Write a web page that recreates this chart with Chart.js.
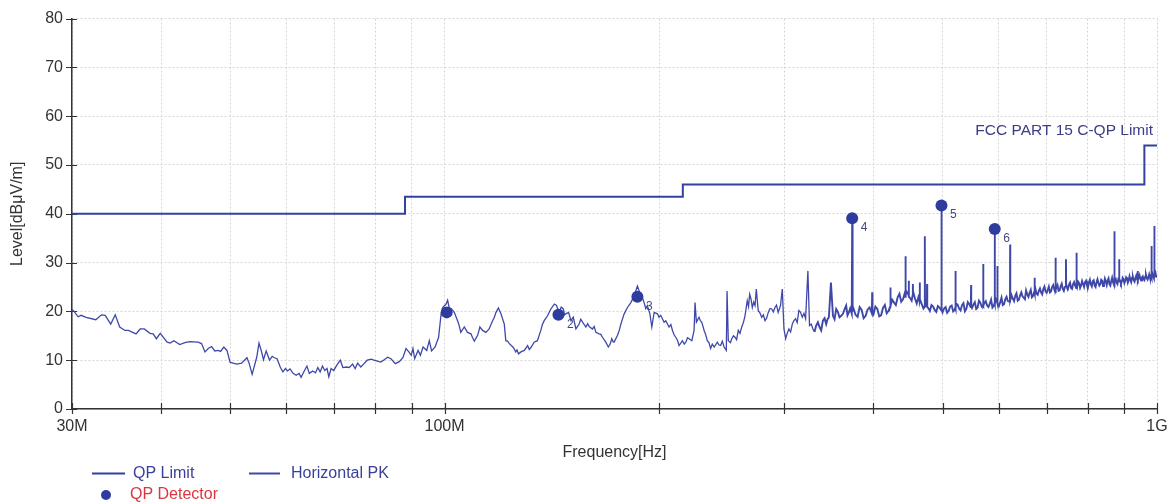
<!DOCTYPE html>
<html>
<head>
<meta charset="utf-8">
<script src="https://cdn.jsdelivr.net/npm/chart.js@4.4.1/dist/chart.umd.min.js"></script>
<style>
  html, body { margin: 0; padding: 0; background: #ffffff; }
  #wrap { width: 1176px; height: 504px; position: relative; }
</style>
</head>
<body>
<div id="wrap"><canvas id="emi" width="1176" height="504"></canvas></div>
<script>
// Axis ticks (frequency in MHz, level in dBuV/m)
const xTickMHz = [30, 40, 50, 60, 70, 80, 90, 100, 200, 300, 400, 500, 600, 700, 800, 900, 1000];
const xTickText = { 30: '30M', 100: '100M', 1000: '1G' };
const yTicks = [0, 10, 20, 30, 40, 50, 60, 70, 80];

// FCC Part 15 C quasi-peak limit (stepped)
const limitFreqMHz = [30, 88, 88, 216, 216, 960, 960, 1000];
const limitLevel = [40, 40, 43.5, 43.5, 46, 46, 54, 54];

// Quasi-peak detector results
const qpFreqMHz = [100.7, 144.5, 186.5, 373.4, 498.3, 591.9];
const qpLevel = [19.8, 19.3, 23.0, 39.1, 41.7, 36.9];
const qpTag = ['', '2', '3', '4', '5', '6'];

// Horizontal peak scan: [MHz, dBuV/m]
const pkTrace = [
  [30.0,20.4],[30.2,20.0],[30.6,18.9],[30.9,19.2],[31.4,18.8],[32.4,18.3],[33.0,19.3],[33.4,19.2],[34.0,17.4],[34.5,19.3],
  [35.0,16.8],[35.6,16.1],[36.0,16.1],[36.9,15.4],[37.4,16.4],[37.9,16.4],[38.6,15.5],[39.0,15.4],[39.4,14.4],[39.9,15.5],
  [40.8,13.7],[41.2,13.5],[41.7,14.0],[42.5,13.2],[43.2,13.6],[43.9,13.8],[45.1,13.7],[45.6,13.4],[46.1,11.7],[46.6,12.4],
  [47.1,12.8],[47.6,11.9],[48.1,12.0],[48.5,11.8],[49.0,12.7],[49.5,12.0],[50.0,9.6],[50.5,9.4],[51.1,9.2],[51.9,9.4],
  [52.8,10.5],[53.2,9.3],[53.7,7.1],[54.5,10.6],[54.9,13.5],[55.3,12.0],[55.7,10.1],[56.2,11.9],[56.8,10.0],[57.3,10.8],
  [57.7,10.5],[58.2,10.3],[58.8,8.6],[59.3,7.6],[59.8,8.3],[60.2,7.8],[60.7,8.2],[61.3,7.3],[61.9,6.9],[62.5,7.3],
  [62.9,6.5],[63.6,7.9],[64.1,8.8],[64.6,7.3],[65.3,7.8],[65.9,7.4],[66.4,8.5],[66.9,7.6],[67.4,8.8],[67.9,7.9],
  [68.4,8.3],[68.8,6.6],[69.3,8.3],[69.9,7.9],[70.6,9.0],[71.4,10.0],[72.0,8.5],[72.9,8.6],[73.5,8.5],[74.3,9.2],
  [74.9,8.3],[75.5,9.4],[76.3,8.6],[77.1,9.3],[77.9,10.0],[78.9,10.2],[79.6,10.0],[80.5,9.8],[81.4,9.6],[82.3,10.1],
  [83.2,10.6],[84.1,10.3],[85.3,9.3],[86.4,9.7],[87.4,10.5],[88.3,12.4],[89.1,11.7],[89.8,11.0],[90.3,12.4],[90.8,10.3],
  [91.8,12.0],[92.5,11.0],[93.3,12.7],[94.4,12.0],[95.2,14.0],[95.9,11.9],[97.0,12.7],[98.1,14.7],[98.9,19.5],[99.4,20.8],
  [100.5,21.5],[101.0,22.3],[101.5,20.8],[103.2,19.8],[104.3,18.1],[105.4,15.7],[106.6,16.8],[107.7,15.7],[108.9,15.4],[110.1,13.9],
  [111.3,15.1],[112.1,16.8],[113.1,16.1],[114.3,15.7],[115.5,16.4],[116.8,18.1],[118.1,19.8],[119.0,20.7],[120.0,19.5],[121.3,17.4],
  [121.9,14.0],[123.3,13.4],[124.9,12.6],[125.9,11.7],[127.0,11.3],[128.0,11.7],[129.4,12.0],[130.8,13.0],[132.2,12.6],[133.6,13.7],
  [135.0,14.0],[136.5,16.1],[138.0,18.1],[139.5,19.1],[141.0,20.5],[142.6,21.5],[143.6,21.2],[144.8,19.8],[146.8,20.5],[148.0,19.5],
  [149.3,19.8],[150.5,18.1],[151.6,18.8],[152.9,16.4],[154.5,17.4],[156.2,17.8],[157.9,16.8],[159.6,16.9],[161.3,16.4],[163.1,15.7],
  [164.8,15.4],[166.6,14.7],[168.4,13.7],[169.8,12.7],[171.7,14.4],[173.0,13.7],[174.9,15.1],[176.8,17.4],[178.7,19.5],[180.6,20.8],
  [182.6,21.8],[184.6,23.2],[186.5,25.2],[188.6,23.2],[190.6,21.8],[192.6,21.2],[194.2,19.5],[195.4,16.8],[196.9,19.8],[199.0,19.5],
  [200.0,18.8],[202.2,18.5],[204.4,18.1],[206.6,16.8],[208.9,16.1],[211.1,14.7],[213.4,13.0],[215.7,14.0],[218.1,13.7],[220.4,14.4],
  [222.4,14.0],[224.0,16.1],[224.7,21.8],[225.7,17.8],[227.6,18.8],[229.6,17.8],[231.4,16.1],[233.8,14.0],[236.3,12.4],[239.0,12.7],
  [241.5,13.7],[244.1,13.0],[246.8,12.7],[248.6,12.0],[249.2,24.2],[250.2,14.0],[253.0,14.4],[255.7,14.7],[258.4,16.1],[261.3,16.8],
  [264.1,19.1],[266.0,22.2],[268.1,23.5],[270.4,20.8],[272.8,21.2],[273.9,24.6],[275.6,20.2],[278.7,18.8],[281.7,18.1],[284.7,19.8],
  [287.9,20.5],[290.9,20.8],[294.0,19.8],[296.2,21.2],[297.9,24.6],[299.5,16.4],[301.2,14.4],[304.3,16.4],[307.7,17.4],[311.0,18.5],
  [314.3,20.2],[317.8,18.8],[321.2,18.5],[323.6,28.3],[325.3,17.1],[328.9,16.4],[332.4,17.1],[336.0,16.8],[339.7,18.1],[343.3,17.4],
  [346.3,18.8],[348.6,25.9],[350.9,19.1],[354.6,20.5],[358.4,18.8],[362.4,19.5],[366.2,21.2],[369.4,19.8],[372.9,19.5],[373.4,39.1],
  [373.9,20.2],[375,20.6],[380,18.9],[385,20.3],[390,19.1],[395,20.8],[397.9,19.6],[398.3,23.9],[398.7,19.8],[400,19.4],
  [405,20.5],[410,19.2],[415,21.3],[420,20.1],[422.2,21.0],[422.5,24.9],[422.8,21.2],[425,22.4],[430,21.3],[435,23.6],
  [440,22.5],[443.3,23.0],[443.6,31.3],[443.9,23.2],[445,24.1],[448.0,23.4],[448.3,26.3],[448.6,23.0],[450,22.8],[454.0,23.3],
  [454.3,25.6],[454.6,23.5],[455,23.9],[460,21.6],[464.2,22.0],[464.5,25.9],[464.8,22.2],[465,22.4],[470,20.6],[471.9,21.1],
  [472.2,35.4],[472.5,21.0],[475,21.4],[475.3,21.2],[475.6,25.6],[475.9,20.9],[480,20.1],[485,21.0],[490,19.9],[495,20.8],
  [498.0,20.2],[498.3,41.7],[498.6,20.4],[500,19.8],[505,20.9],[510,20.1],[515,21.2],[520,20.3],[521.1,20.8],[521.4,28.3],
  [521.7,20.6],[525,21.4],[530,20.2],[535,21.7],[540,20.5],[545,21.5],[548.0,21.0],[548.3,25.4],[548.6,21.1],[550,20.7],
  [555,21.9],[560,20.8],[565,21.8],[570.0,21.3],[570.3,29.7],[570.6,21.2],[575,22.1],[580,20.9],[585,22.4],[590,21.2],
  [591.6,21.7],[591.9,36.9],[592.2,21.5],[595,22.2],[596.7,21.8],[597.0,29.3],[597.3,21.6],[600,21.1],[605,22.8],[610,21.5],
  [615,23.0],[620,22.0],[621.8,22.4],[622.1,33.7],[622.4,22.3],[625,23.3],[630,22.1],[635,23.7],[640,22.4],[645,23.9],
  [650,22.8],[655,24.3],[660,23.0],[665,24.4],[670,23.2],[673.2,23.8],[673.5,26.9],[673.8,23.6],[675,24.7],[680,23.4],
  [685,24.7],[690,23.5],[695,25.1],[700,23.8],[705,25.1],[710,24.1],[715,25.4],[720,23.9],[720.4,24.5],[720.7,31.0],
  [721.0,24.4],[725,25.4],[730,24.3],[735,25.7],[740,24.2],[744.6,25.1],[745.1,30.7],[745.6,25.3],[750,24.6],[755,25.9],
  [760,24.6],[765,26.0],[770,24.8],[770.9,25.6],[771.2,32.0],[771.5,25.4],[775,26.1],[780,24.8],[785,26.2],[790,25.0],
  [795,26.3],[800,24.9],[805,26.5],[810,25.1],[815,26.4],[820,25.0],[825,26.6],[830,25.3],[835,26.5],[840,25.2],
  [845,26.7],[850,25.4],[855,26.8],[860,25.3],[865,26.9],[870,25.5],[870.8,26.2],[871.1,36.4],[871.4,26.0],[875,26.7],
  [880,25.6],[884.7,26.4],[885.0,30.7],[885.3,26.2],[890,25.7],[895,26.9],[900,25.8],[905,27.0],[910,25.9],[915,27.2],
  [920,26.0],[925,27.1],[930,26.1],[935,27.3],[939.6,26.5],[939.9,28.3],[940.2,26.3],[945,27.4],[950,26.3],[955,27.2],
  [960,26.4],[965,27.5],[970,26.5],[975,27.6],[980,26.6],[982.3,27.1],[982.6,33.4],[982.9,27.0],[985,27.8],[990,26.8],
  [990.9,27.2],[991.2,37.5],[991.5,27.3],[995,27.9],[1000,27.0]
];

// Intermediate sweep samples between the points above: [MHz, dBuV/m]
const pkFine = [
  [102.3,20.5],[104.8,17.2],[109.5,14.6],[117.4,18.7],[122.6,13.9],[126.4,12.1],[131.5,12.2],[137.2,17.3],[145.8,20.9],[147.4,19.3],
  [155.3,18.4],[158.8,17.5],[162.2,16.9],[165.7,15.3],[170.8,13.3],[172.4,13.8],[175.8,16.0],[179.6,20.1],[189.6,22.8],[191.6,20.6],
  [201.1,19.2],[203.3,17.8],[207.8,17.3],[210.0,15.2],[212.3,14.1],[217.0,13.3],[219.3,14.6],[228.6,18.1],[232.6,15.2],[235.0,13.6],
  [237.6,13.3],[242.8,13.1],[245.4,13.9],[252.0,13.6],[254.4,15.0],[257.0,14.2],[259.8,15.5],[262.7,17.7],[267.1,21.0],[269.2,22.6],
  [271.6,21.9],[277.1,19.7],[280.2,19.3],[283.2,18.6],[286.3,20.6],[289.4,19.9],[292.4,21.3],[302.7,15.5],[306.0,15.8],[309.3,18.1],
  [312.6,17.7],[316.0,19.8],[319.5,19.6],[327.1,17.4],[330.6,15.8],[334.2,17.8],[337.8,16.1],[341.5,18.6],[344.8,18.4],[352.7,18.4],
  [356.5,19.9],[360.4,19.1],[364.3,20.4],[367.8,19.2],[371.0,20.6],
  [377.5,19.3],[382.5,20.9],[387.5,18.6],[392.5,20.4],[402.5,21.0],[407.5,19.0],[412.5,20.7],[417.5,19.6],[427.5,21.8],[432.5,22.9],
  [437.5,22.0],[442.5,23.7],[452.5,22.2],[457.5,22.6],[462.5,22.9],[467.5,21.5],[477.5,20.7],[482.5,21.3],[487.5,20.3],[492.5,21.1],
  [502.5,20.6],[507.5,19.7],[512.5,21.0],[517.5,20.0],[522.5,21.6],[527.5,20.6],[532.5,21.3],[537.5,20.0],[542.5,21.9],[547.5,20.9],
  [552.5,21.4],[557.5,20.5],[562.5,22.2],[567.5,21.0],[572.5,21.7],[577.5,21.2],[582.5,21.6],[587.5,20.8],[593.5,22.6],[602.5,21.9],
  [607.5,21.3],[612.5,22.5],[617.5,22.1],[627.5,22.6],[632.5,23.2],[637.5,22.2],[642.5,23.3],[647.5,23.1],[652.5,22.5],[657.5,23.5],
  [662.5,23.8],[667.5,22.9],[672.5,24.0],[677.5,23.6],[682.5,24.2],[687.5,23.9],[692.5,24.6],[697.5,24.1],[702.5,24.4],[707.5,23.9],
  [712.5,25.0],[717.5,24.5],[722.5,24.9],[727.5,24.2],[732.5,25.2],[737.5,24.6],[742.5,25.0],[747.5,24.9],[752.5,25.5],[757.5,24.8],
  [762.5,25.6],[767.5,25.3],[772.5,25.0],[777.5,25.8],[782.5,25.3],[787.5,25.6],[792.5,26.0],[797.5,25.4],[802.5,25.9],[807.5,25.5],
  [812.5,26.2],[817.5,25.3],[822.5,26.0],[827.5,25.8],[832.5,25.6],[837.5,26.3],[842.5,25.7],[847.5,26.1],[852.5,26.4],[857.5,25.6],
  [862.5,26.2],[867.5,26.0],[872.5,26.5],[877.5,25.9],[882.5,26.6],[887.5,26.3],[892.5,26.1],[897.5,26.6],[902.5,26.3],[907.5,26.8],
  [912.5,26.4],[917.5,26.5],[922.5,26.9],[927.5,26.4],[932.5,26.8],[937.5,26.6],[942.5,26.9],[947.5,26.7],[952.5,27.0],[957.5,26.6],
  [962.5,27.1],[967.5,26.8],[972.5,27.0],[977.5,26.9],[987.5,27.2],[992.5,27.4],[997.5,27.1]
];

const FONT = '"Liberation Sans", Arial, Helvetica, sans-serif';
const AXIS_COLOR = '#333333';
const LIMIT_COLOR = '#3341a0';
const TRACE_COLOR = '#3f48a8';
const MARKER_COLOR = '#2e3d9d';

Chart.defaults.font.family = FONT;
Chart.defaults.color = AXIS_COLOR;

// Full sweep in frequency order
const pkSweep = pkTrace.concat(pkFine).sort((a, b) => a[0] - b[0]);

// Crossing tick marks on both axes
const axisMarks = {
  id: 'axisMarks',
  beforeDatasetsDraw(chart) {
    const { ctx, chartArea: a, scales: { x, y } } = chart;
    ctx.save();
    ctx.strokeStyle = AXIS_COLOR;
    ctx.lineWidth = 1.2;
    ctx.beginPath();
    xTickMHz.forEach(v => {
      const px = Math.round(x.getPixelForValue(v)) + 0.5;
      ctx.moveTo(px, a.bottom - 6);
      ctx.lineTo(px, a.bottom + 5);
    });
    yTicks.forEach(v => {
      const py = Math.round(y.getPixelForValue(v)) + 0.5;
      ctx.moveTo(a.left - 6, py);
      ctx.lineTo(a.left + 5, py);
    });
    ctx.stroke();
    ctx.restore();
  }
};

// Marker numbers, limit name and the legend block
const annotations = {
  id: 'annotations',
  afterDraw(chart) {
    const { ctx, chartArea: a, scales: { x, y } } = chart;
    ctx.save();

    ctx.font = '12px ' + FONT;
    ctx.fillStyle = '#45487e';
    ctx.textAlign = 'left';
    ctx.textBaseline = 'middle';
    qpFreqMHz.forEach((f, i) => {
      if (!qpTag[i]) return;
      ctx.fillText(qpTag[i], x.getPixelForValue(f) + 8.5, y.getPixelForValue(qpLevel[i]) + 9.5);
    });

    ctx.font = '15.5px ' + FONT;
    ctx.fillStyle = '#3b3d87';
    ctx.textAlign = 'right';
    ctx.fillText('FCC PART 15 C-QP Limit', a.right - 4, y.getPixelForValue(limitLevel[limitLevel.length - 1]) - 15);

    // legend
    ctx.font = '16px ' + FONT;
    ctx.textAlign = 'left';
    ctx.lineWidth = 2;
    ctx.strokeStyle = LIMIT_COLOR;
    ctx.beginPath(); ctx.moveTo(92, 473.5); ctx.lineTo(125, 473.5); ctx.stroke();
    ctx.fillStyle = '#3a3f9a';
    ctx.fillText('QP Limit', 133, 474);
    ctx.strokeStyle = TRACE_COLOR;
    ctx.beginPath(); ctx.moveTo(249, 473.5); ctx.lineTo(280, 473.5); ctx.stroke();
    ctx.fillText('Horizontal PK', 291, 474);
    ctx.fillStyle = MARKER_COLOR;
    ctx.beginPath(); ctx.arc(106, 495, 5, 0, Math.PI * 2); ctx.fill();
    ctx.fillStyle = '#d9363e';
    ctx.fillText('QP Detector', 130, 495);

    ctx.restore();
  }
};

new Chart(document.getElementById('emi'), {
  type: 'line',
  data: {
    datasets: [
      {
        label: 'QP Detector',
        data: qpFreqMHz.map((f, i) => ({ x: f, y: qpLevel[i] })),
        showLine: false,
        pointRadius: 6,
        pointBackgroundColor: MARKER_COLOR,
        pointBorderWidth: 0,
        order: 0
      },
      {
        label: 'QP Limit',
        data: limitFreqMHz.map((f, i) => ({ x: f, y: limitLevel[i] })),
        borderColor: LIMIT_COLOR,
        borderWidth: 2,
        pointRadius: 0,
        tension: 0,
        order: 1
      },
      {
        label: 'Horizontal PK',
        data: pkSweep.map(p => ({ x: p[0], y: p[1] })),
        borderColor: TRACE_COLOR,
        borderWidth: 1.3,
        pointRadius: 0,
        tension: 0,
        // the dense upper part of the sweep reads as a heavier band
        segment: { borderWidth: c => (c.p0.parsed.x > 330 ? 1.9 : 1.3) },
        order: 2
      }
    ]
  },
  options: {
    responsive: false,
    animation: false,
    events: [],
    layout: { padding: { top: 16, right: 19, left: 0, bottom: 0 } },
    plugins: { legend: { display: false }, tooltip: { enabled: false } },
    scales: {
      x: {
        type: 'logarithmic',
        min: 30,
        max: 1000,
        afterBuildTicks: s => { s.ticks = xTickMHz.map(v => ({ value: v })); },
        afterFit: s => { s.height = 95; },
        ticks: {
          autoSkip: false,
          maxRotation: 0,
          padding: 8,
          color: AXIS_COLOR,
          font: { size: 16 },
          callback: v => xTickText[v] || ''
        },
        grid: { color: '#d6d6d6', lineWidth: 1, drawTicks: false },
        border: { color: AXIS_COLOR, width: 1.5, dash: [2, 2] },
        title: { display: true, text: 'Frequency[Hz]', color: AXIS_COLOR, font: { size: 16 }, padding: { top: 0, bottom: 42 } }
      },
      y: {
        min: 0,
        max: 80,
        afterBuildTicks: s => { s.ticks = yTicks.map(v => ({ value: v })); },
        afterFit: s => { s.width = 72; },
        ticks: { padding: 9, color: AXIS_COLOR, font: { size: 16 } },
        grid: { color: '#d6d6d6', lineWidth: 1, drawTicks: false },
        border: { color: AXIS_COLOR, width: 1.5, dash: [2, 2] },
        title: { display: true, text: 'Level[dBμV/m]', color: AXIS_COLOR, font: { size: 16 }, padding: { top: 8, bottom: 0 } }
      }
    }
  },
  plugins: [axisMarks, annotations]
});
</script>
</body>
</html>
